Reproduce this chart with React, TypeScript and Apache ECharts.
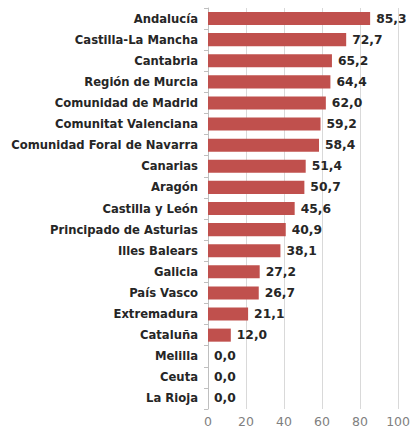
import React, { useEffect, useRef } from "react";
import * as echarts from "echarts";

const categories = [
  "Andalucía",
  "Castilla-La Mancha",
  "Cantabria",
  "Región de Murcia",
  "Comunidad de Madrid",
  "Comunitat Valenciana",
  "Comunidad Foral de Navarra",
  "Canarias",
  "Aragón",
  "Castilla y León",
  "Principado de Asturias",
  "Illes Balears",
  "Galicia",
  "País Vasco",
  "Extremadura",
  "Cataluña",
  "Melilla",
  "Ceuta",
  "La Rioja",
];
const values = [85.3, 72.7, 65.2, 64.4, 62.0, 59.2, 58.4, 51.4, 50.7, 45.6, 40.9, 38.1, 27.2, 26.7, 21.1, 12.0, 0.0, 0.0, 0.0];
const xTicks = { min: 0, max: 100, interval: 20 };

export default function App() {
  const ref = useRef<HTMLDivElement>(null);
  useEffect(() => {
    const chart = echarts.init(ref.current!, null, { renderer: "svg" });
    chart.setOption({
      animation: false,
      backgroundColor: "#ffffff",
      grid: { left: 208, right: 12, top: 8, bottom: 21, containLabel: false },
      xAxis: {
        type: "value",
        min: xTicks.min,
        max: xTicks.max,
        interval: xTicks.interval,
        axisLine: { show: false },
        axisTick: { show: false },
        splitLine: { show: true, lineStyle: { color: "#d9d9d9", width: 1 } },
        axisLabel: { color: "#7f7f7f", fontSize: 12.5, fontFamily: "DejaVu Sans", margin: 6 },
      },
      yAxis: {
        type: "category",
        data: categories,
        inverse: true,
        axisLine: { show: true, lineStyle: { color: "#bfbfbf", width: 1 } },
        axisTick: { show: true, length: 4, lineStyle: { color: "#bfbfbf" } },
        axisLabel: {
          color: "#262626",
          fontSize: 11.6,
          fontWeight: "bold",
          fontFamily: "DejaVu Sans",
          margin: 10,
        },
      },
      series: [
        {
          type: "bar",
          data: values,
          barWidth: "62%",
          itemStyle: { color: "#c0504d" },
          label: {
            show: true,
            position: "right",
            distance: 6,
            color: "#262626",
            fontSize: 12.3,
            fontWeight: "bold",
            fontFamily: "DejaVu Sans",
            formatter: (p: any) => Number(p.value).toFixed(1).replace(".", ","),
          },
        },
      ],
    });
    return () => chart.dispose();
  }, []);
  return (
    <div
      ref={ref}
      style={{ position: "absolute", left: 0, top: 0, width: 413, height: 430 }}
    />
  );
}
